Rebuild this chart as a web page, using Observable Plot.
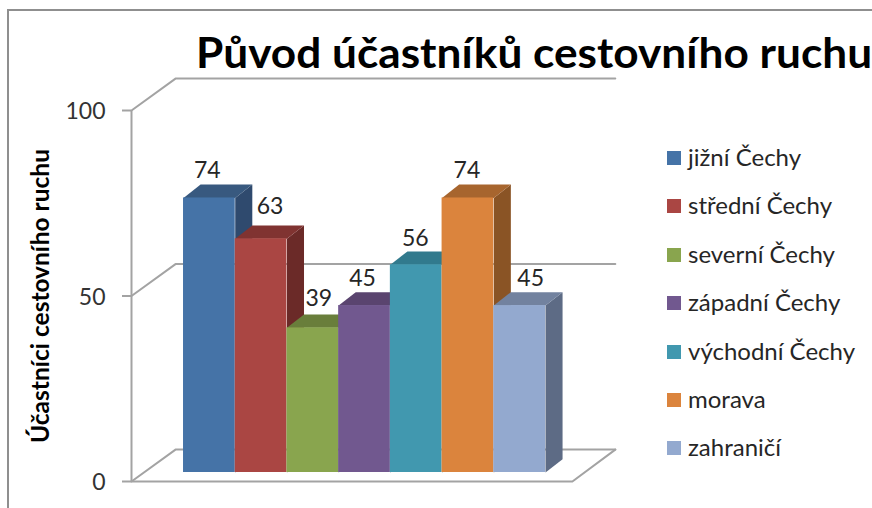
<!DOCTYPE html>
<html lang="cs">
<head>
<meta charset="utf-8">
<script src="https://cdn.jsdelivr.net/npm/d3@7"></script>
<script src="https://cdn.jsdelivr.net/npm/@observablehq/plot@0.6"></script>
<style>
  html, body { margin: 0; padding: 0; background: #fff; }
  #page { position: relative; width: 872px; height: 508px; overflow: hidden; font-family: Lato, sans-serif; color: #262626; }
  #page svg { position: absolute; left: 0; top: 0; background: transparent; }
  #frame { position: absolute; left: 7px; top: 9px; width: 900px; height: 540px; border: 2px solid #8f8f8f; box-sizing: border-box; }
  #title { position: absolute; left: 196px; top: 26px; font-weight: 700; font-size: 42px; line-height: 52px; color: #000; white-space: nowrap; transform-origin: left center; transform: scaleX(1.052); }
  #legend { position: absolute; left: 667px; top: 0; }
  .item { position: absolute; left: 0; white-space: nowrap; height: 24px; line-height: 24px; font-size: 24px; }
  .item i { position: absolute; left: 0; top: 5px; width: 14px; height: 14px; }
  .item span { position: absolute; left: 21px; top: -1px; }
</style>
</head>
<body>
<div id="page">
  <div id="frame"></div>
  <div id="chart"></div>
  <div id="title"></div>
  <div id="legend"></div>
</div>
<script>
const chartTitle = "Původ účastníků cestovního ruchu";
const axisTitle = "Účastníci cestovního ruchu";
const categories = ["jižní Čechy", "střední Čechy", "severní Čechy", "západní Čechy", "východní Čechy", "morava", "zahraničí"];
const values = [74, 63, 39, 45, 56, 74, 45];
const yTicks = [0, 50, 100];

const frontColors = ["#4573a7", "#aa4643", "#89a54e", "#71588f", "#4198af", "#db843d", "#93a9cf"];
const topColors   = ["#38597f", "#803331", "#697e3b", "#5a446f", "#317a8d", "#a7652e", "#72829f"];
const sideColors  = ["#2f4a6e", "#6b2a28", "#566832", "#49375c", "#296475", "#8a5425", "#5d6b85"];

// label nudges (pixels) away from the taller neighbour
const labelDx = [-2, 9, 6, -2, -1, -1, 11];
const labelDy = [-36.5, -41, -38, -36, -35, -36.5, -36];

// 3D layout, in scale units
const wallLeft = -1.006, wallBack = -0.155, floorRight = 7.52, wallRight = 8.35;
const wallDepth = 8.6;     // y units between front and back wall
const barDx = 0.33, barDy = 3.6;
const barLift = -9;        // px between axis zero and bar base
const lineColor = "#a3a3a3";

const wall = (v) => Plot.line([[wallLeft, v], [wallBack, v + wallDepth], [wallRight, v + wallDepth]], {
  x: (d) => d[0], y: (d) => d[1], stroke: lineColor, strokeWidth: 2
});

const barMarks = categories.flatMap((c, i) => {
  const v = values[i];
  const row = [{cat: c, v}];
  const poly = (pts, fill) => Plot.line(pts, {
    x: (d) => d[0], y: (d) => d[1], fill, stroke: "none", curve: "linear-closed", dy: barLift
  });
  return [
    poly([[i + 1, 0], [i + 1 + barDx, barDy], [i + 1 + barDx, v + barDy], [i + 1, v]], sideColors[i]),
    poly([[i, v], [i + barDx, v + barDy], [i + 1 + barDx, v + barDy], [i + 1, v]], topColors[i]),
    Plot.rect(row, {x1: () => i, x2: () => i + 1, y1: () => 0, y2: (d) => d.v, fill: frontColors[i], dy: barLift})
  ];
});

const labelMarks = categories.map((c, i) => Plot.text([values[i]], {
  x: () => i + 0.5, y: (d) => d, text: (d) => String(d),
  dx: labelDx[i], dy: labelDy[i], fontSize: 23, fill: "#262626"
}));

const chart = Plot.plot({
  width: 872, height: 508,
  marginLeft: 131, marginRight: 327, marginTop: 110, marginBottom: 27,
  style: {fontFamily: "Lato, sans-serif", background: "transparent"},
  x: {domain: [wallLeft, 7], axis: null},
  y: {domain: [0, 100], label: null},
  marks: [
    wall(0), wall(50), wall(100),
    Plot.line([[wallLeft, 0], [floorRight, 0], [wallRight, wallDepth]], {x: (d) => d[0], y: (d) => d[1], stroke: lineColor, strokeWidth: 2}),
    Plot.ruleX([wallLeft], {y1: 0, y2: 100, stroke: lineColor, strokeWidth: 2}),
    Plot.axisY({ticks: yTicks, tickSize: 9, text: null, stroke: lineColor, strokeWidth: 2, label: null}),
    Plot.axisY({ticks: yTicks, tickSize: 0, tickPadding: 26, fontSize: 23, stroke: "none", fill: "#333", dy: 1.5, label: null}),
    ...barMarks,
    ...labelMarks,
    Plot.text([axisTitle], {y: () => 50, frameAnchor: "left", textAnchor: "middle", dx: -90, dy: 0, rotate: -90, fontSize: 24.5, fontWeight: 700, fill: "#000"})
  ]
});
document.getElementById("chart").append(chart);
document.getElementById("title").textContent = chartTitle;

const legendTops = [146, 194, 243, 291, 340, 388, 436];
const legend = document.getElementById("legend");
categories.forEach((c, i) => {
  const el = document.createElement("div");
  el.className = "item";
  el.style.top = legendTops[i] + "px";
  const sw = document.createElement("i");
  sw.style.background = frontColors[i];
  const tx = document.createElement("span");
  tx.textContent = c;
  el.append(sw, tx);
  legend.append(el);
});
</script>
</body>
</html>
